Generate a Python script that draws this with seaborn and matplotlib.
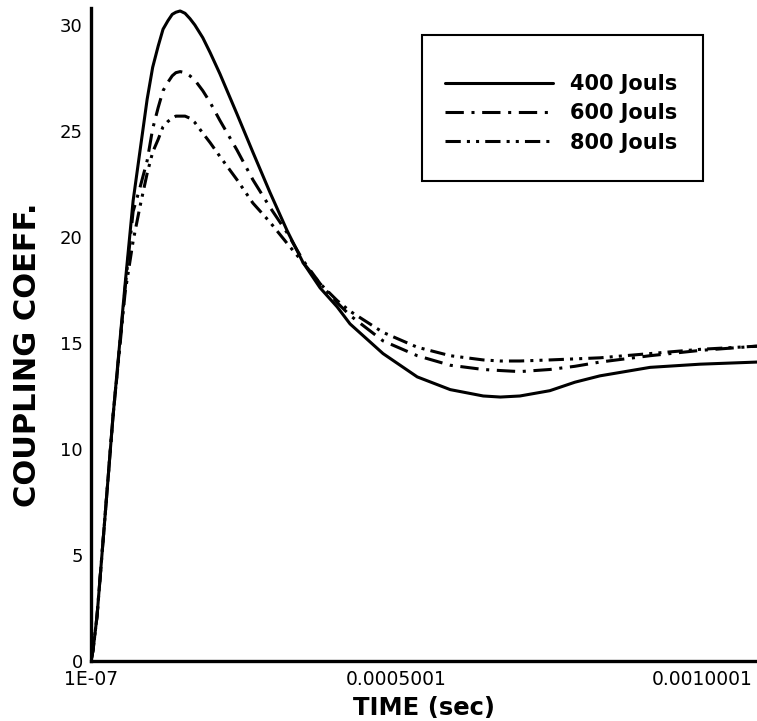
import numpy as np
import pandas as pd
import matplotlib
matplotlib.use('Agg')
import matplotlib.pyplot as plt
from matplotlib.patches import Rectangle
from matplotlib.ticker import FixedLocator, MultipleLocator
from matplotlib.transforms import ScaledTranslation
import seaborn as sns

# time samples (s), shared by all three curves
time_s = [1e-7, 3.4e-6, 9.9e-6, 2.3e-5, 3.6e-5, 5.6e-5, 6.9e-5, 8.0e-5,
          9.2e-5, 1.01e-4, 1.10e-4, 1.18e-4, 1.26e-4, 1.33e-4, 1.39e-4,
          1.46e-4, 1.54e-4, 1.62e-4, 1.70e-4, 1.83e-4, 1.95e-4, 2.11e-4,
          2.39e-4, 2.65e-4, 2.93e-4, 3.21e-4, 3.47e-4, 3.75e-4, 4.03e-4,
          4.24e-4, 4.78e-4, 5.34e-4, 5.88e-4, 6.42e-4, 6.70e-4, 7.02e-4,
          7.51e-4, 7.92e-4, 8.33e-4, 9.15e-4, 9.97e-4, 1.09e-3]

coupling_400 = [0, 0.5, 2.1, 6.8, 11.5, 17.8, 21.7, 24.0, 26.5, 28.0, 29.0,
                29.8, 30.2, 30.5, 30.6, 30.66, 30.55, 30.3, 30.0, 29.4, 28.7,
                27.7, 25.8, 24.0, 22.1, 20.3, 18.8, 17.6, 16.7, 15.9, 14.5,
                13.4, 12.8, 12.5, 12.45, 12.5, 12.75, 13.15, 13.45, 13.85,
                14.0, 14.1]
coupling_600 = [0, 0.5, 2.1, 6.8, 11.5, 17.6, 21.2, 22.3, 23.6, 25.1, 26.1,
                26.9, 27.3, 27.6, 27.75, 27.8, 27.75, 27.6, 27.4, 26.9, 26.35,
                25.5, 24.1, 22.7, 21.4, 20.2, 18.9, 17.8, 16.9, 16.3, 15.1,
                14.4, 13.95, 13.75, 13.7, 13.65, 13.75, 13.9, 14.1, 14.4,
                14.65, 14.85]
coupling_800 = [0, 0.5, 2.1, 6.8, 11.5, 17.4, 19.8, 21.4, 23.0, 24.0, 24.6,
                25.2, 25.45, 25.6, 25.7, 25.7, 25.7, 25.6, 25.4, 24.9, 24.45,
                23.8, 22.7, 21.6, 20.7, 19.7, 18.8, 17.8, 17.0, 16.5, 15.5,
                14.8, 14.4, 14.2, 14.15, 14.15, 14.2, 14.25, 14.3, 14.5,
                14.7, 14.85]

labels = ['400 Jouls', '600 Jouls', '800 Jouls']
x_ticks = [1e-7, 5.001e-4, 1.0001e-3]
x_ticklabels = ['1E-07', '0.0005001', '0.0010001']

df = pd.DataFrame({
    'time': time_s * 3,
    'coupling': coupling_400 + coupling_600 + coupling_800,
    'energy': [lab for lab in labels for _ in time_s],
})

sns.set_style('white')
plt.rcParams['font.family'] = ['DejaVu Sans']
plt.rcParams['text.color'] = 'black'
plt.rcParams['axes.labelcolor'] = 'black'

fig = plt.figure(figsize=(7.57, 7.21), dpi=100)
ax = fig.add_axes([91 / 757, 60 / 721, 666 / 757, 653 / 721])

dash_map = {labels[0]: '', labels[1]: (6, 2.5, 1, 2.5),
            labels[2]: (5, 2, 1, 2, 1, 2)}
sns.lineplot(data=df, x='time', y='coupling', style='energy', dashes=dash_map,
             style_order=labels, color='black', lw=2.2, estimator=None,
             sort=False, ax=ax)

ax.set_xlim(1e-7, 1.09e-3)
ax.set_ylim(0, 30.8)

ax.xaxis.set_major_locator(FixedLocator(x_ticks))
ax.set_xticklabels(x_ticklabels)
ax.xaxis.set_minor_locator(FixedLocator([1e-7 + k * 1e-4 for k in range(11)]))
ax.yaxis.set_major_locator(MultipleLocator(5))
ax.yaxis.set_minor_locator(MultipleLocator(1))

ax.tick_params(which='major', direction='in', length=13, width=2.2,
               labelsize=13, pad=6, colors='black')
ax.tick_params(which='minor', direction='in', length=7.5, width=1.2)
ax.tick_params(axis='x', which='major', labelsize=13.5, pad=6.5)

# the "0" label sits a little above the corner in the original
zero_lab = ax.yaxis.get_major_ticks()[0].label1
zero_lab.set_transform(zero_lab.get_transform()
                       + ScaledTranslation(0, 3 / 100, fig.dpi_scale_trans))

for side in ['top', 'right']:
    ax.spines[side].set_visible(False)
for side in ['left', 'bottom']:
    ax.spines[side].set_linewidth(2.4)
    ax.spines[side].set_color('black')

ax.set_xlabel('TIME (sec)', fontsize=17.5, fontweight='bold')
ax.set_ylabel('COUPLING COEFF.', fontsize=22, fontweight='bold')
ax.yaxis.set_label_coords(-0.073, 0.469)
ax.xaxis.set_label_coords(0.5, -0.053)

# legend: entries placed inside a hand-drawn box like the original
handles, _ = ax.get_legend_handles_labels()
leg = ax.legend(handles, labels, loc='upper left',
                bbox_to_anchor=(445 / 757, 1 - 74 / 721),
                bbox_transform=fig.transFigure, borderaxespad=0, borderpad=0,
                prop={'weight': 'bold', 'size': 15}, handlelength=5.2,
                handletextpad=0.8, labelspacing=0.45, frameon=False)
for line in leg.get_lines():
    line.set_linewidth(2.2)
fig.add_artist(Rectangle((422 / 757, 1 - 181 / 721), 281 / 757, 146 / 721,
                         transform=fig.transFigure, fill=False, lw=1.5,
                         ec='black'))

fig.savefig('out.png', dpi=100)
